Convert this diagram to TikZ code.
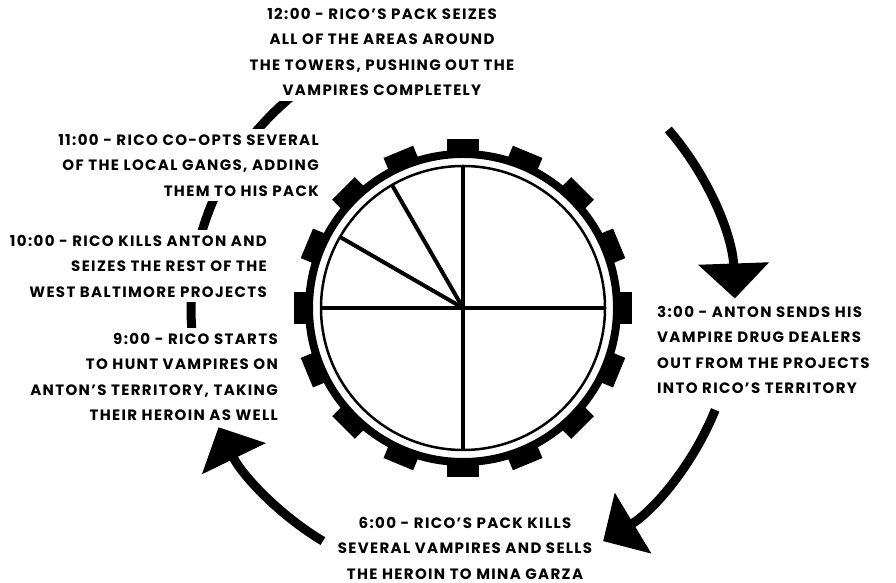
\documentclass[tikz,border=0pt]{standalone}
\usepackage{fontspec}
\setmainfont{Poppins}[LetterSpace=9]
\usetikzlibrary{arrows.meta}

\begin{document}
\begin{tikzpicture}[x=1pt,y=1pt,
  event/.style={fill=white, inner sep=5pt, font=\fontsize{15}{25.5}\selectfont\bfseries},
  bigarrow/.style={line width=9pt, -{Triangle[length=35pt,width=69pt]}},
  hand/.style={line width=4pt}]
\useasboundingbox (0,0) rectangle (896,583);
\def\r{272}
% clock
\node[draw, circle, line width=2.5pt, minimum size=284pt, inner sep=0pt, outer sep=0pt] (face) at (463,275) {};
\draw[line width=8pt] (face.center) circle (154);
\foreach \a in {0,22.5,...,337.5}{
  \fill[shift={(face.center)}, rotate=\a] (151,-16) rectangle (169,16);
}
\draw[hand] (face.north) -- (face.south);
\draw[hand] (face.west) -- (face.east);
\draw[hand] (face.center) -- (face.120);
\draw[hand] (face.center) -- (face.150);

% arrows round the clock
\draw[bigarrow] ([shift={(41:\r)}]face.center) arc[start angle=41, end angle=2, radius=\r];
\draw[bigarrow] ([shift={(-22:\r)}]face.center) arc[start angle=-22, end angle=-59, radius=\r];
\draw[bigarrow] ([shift={(239:\r)}]face.center) arc[start angle=239, end angle=206, radius=\r];
\draw[bigarrow] ([shift={(200:\r)}]face.center) arc[start angle=200, end angle=100, radius=\r];

% events
\node[event, align=center] (e12) at (382,531) {12:00 - RICO'S PACK SEIZES\\ALL OF THE AREAS AROUND\\THE TOWERS, PUSHING OUT THE\\VAMPIRES COMPLETELY};
\node[event, align=right, anchor=east] (e11) at (324,418) {11:00 - RICO CO-OPTS SEVERAL\\OF THE LOCAL GANGS, ADDING\\THEM TO HIS PACK};
\node[event, align=right, anchor=east] (e10) at (272,317) {10:00 - RICO KILLS ANTON AND\\SEIZES THE REST OF THE\\WEST BALTIMORE PROJECTS};
\node[event, align=right, anchor=east] (e9) at (283,206) {9:00 - RICO STARTS\\TO HUNT VAMPIRES ON\\ANTON'S TERRITORY, TAKING\\THEIR HEROIN AS WELL};
\node[event, align=left, anchor=west] (e3) at (652,233) {3:00 - ANTON SENDS HIS\\VAMPIRE DRUG DEALERS\\OUT FROM THE PROJECTS\\INTO RICO'S TERRITORY};
\node[event, align=center] (e6) at (465,35) {6:00 - RICO'S PACK KILLS\\SEVERAL VAMPIRES AND SELLS\\THE HEROIN TO MINA GARZA};
\end{tikzpicture}
\end{document}
